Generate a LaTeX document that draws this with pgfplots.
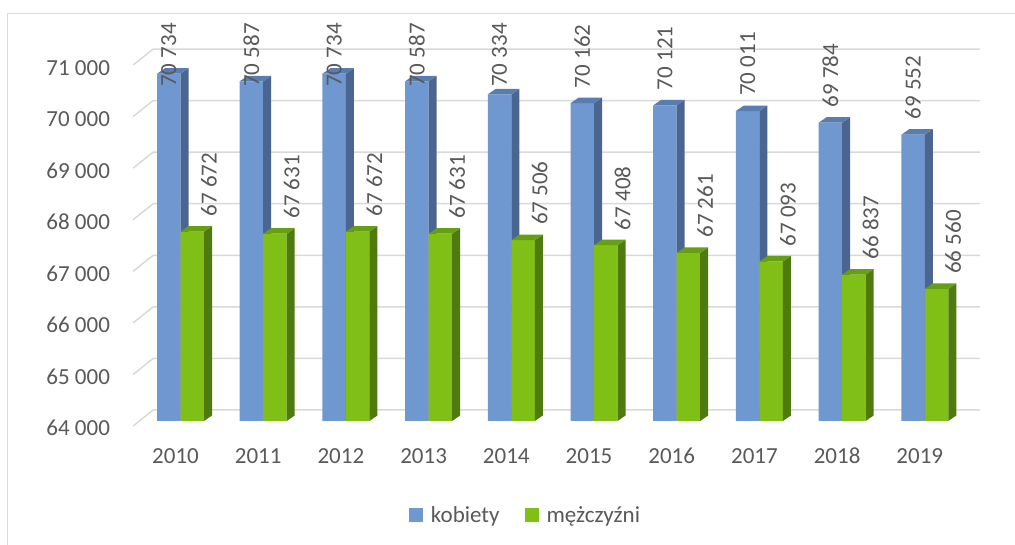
\documentclass[border=0pt]{standalone}
\usepackage{pgfplots}
\pgfplotsset{compat=1.18}
\usepackage{pgfplotstable}
\usepackage{fontspec}
\setmainfont{Carlito}
\definecolor{blueF}{HTML}{6F98D1}
\definecolor{blueS}{HTML}{4A6690}
\definecolor{blueT}{HTML}{5A7DB0}
\definecolor{greenF}{HTML}{80C016}
\definecolor{greenS}{HTML}{4F7A0E}
\definecolor{greenT}{HTML}{669E14}
\definecolor{textgray}{HTML}{595959}
\definecolor{gridgray}{HTML}{D9D9D9}
\newcommand\chartfont{\fontsize{23}{27}\selectfont}
\pgfplotstableread{
i k m
0 70734 67672
1 70587 67631
2 70734 67672
3 70587 67631
4 70334 67506
5 70162 67408
6 70121 67261
7 70011 67093
8 69784 66837
9 69552 66560
}\data
% geometry constants (axis units)
\def\bw{0.28416}   % bar width 23.5pt
\def\dx{0.09674}   % depth 8pt
\def\dy{106.65}    % depth 5.5pt in data units
\newcommand\face[2]{% #1 = index, #2 = column ; sets \vt \vtt
  \pgfplotstablegetelem{#1}{#2}\of\data
  \edef\vt{\pgfplotsretval}%
  \pgfkeys{/pgf/fpu=true,/pgf/fpu/output format=fixed}%
  \pgfmathparse{\vt+\dy}\global\let\vtt\pgfmathresult
  \pgfkeys{/pgf/fpu=false}%
}
\begin{document}
\begin{tikzpicture}
\begin{axis}[
  at={(139.15pt,124pt)}, anchor=south west,
  scale only axis, width=827pt, height=361pt,
  xmin=-0.5, xmax=9.5, ymin=64000, ymax=71000,
  clip=false,
  axis line style={draw=none},
  major tick length=0pt, tick style={draw=none},
  xtick={0,1,2,3,4,5,6,7,8,9},
  xticklabels={2010,2011,2012,2013,2014,2015,2016,2017,2018,2019},
  ytick={64000,65000,66000,67000,68000,69000,70000,71000},
  scaled y ticks=false,
  /pgf/number format/1000 sep={\ },
  /pgf/number format/assume math mode=true,
  tick label style={font=\chartfont, text=textgray},
  yticklabel style={anchor=base east, inner sep=0pt, xshift=-29pt, yshift=-15pt},
  xticklabel style={anchor=base, inner sep=0pt, yshift=-43pt, xshift=-5pt},
  legend style={at={(axis description cs:0.3263,-0.2604)}, anchor=west,
    draw=none, fill=none, inner sep=0pt, outer sep=0pt,
    font=\chartfont, text=textgray, legend columns=2,
    /tikz/every odd column/.append style={column sep=6pt},
    /tikz/every even column/.append style={column sep=23pt}},
  legend cell align=left,
]
% grid (back wall + floor diagonals)
\pgfplotsinvokeforeach{64000,65000,66000,67000,68000,69000,70000,71000}{
  \draw[gridgray, line width=1.5pt] ([xshift=-6pt,yshift=-5pt]axis cs:-0.5,#1) -- ([xshift=14pt,yshift=11pt]axis cs:-0.5,#1) -- ([xshift=14pt,yshift=11pt]axis cs:9.5,#1);
}
% blue fronts
\addplot[ybar, bar width=23.5pt, bar shift=-11.75pt, fill=blueF, draw=none,
  legend image code/.code={\fill[blueF] (0pt,-7pt) rectangle (14pt,7pt);}]
  table[x=i, y=k]{\data};
\addlegendentry{kobiety}
\pgfplotsinvokeforeach{0,...,9}{
  \face{#1}{k}
  \pgfmathsetmacro\xl{#1-\bw}
  \pgfmathsetmacro\xll{#1-\bw+\dx}
  \pgfmathsetmacro\xrr{#1+\dx}
  \addplot[draw=none, fill=blueS, forget plot] coordinates {(#1,64000) (#1,\vt) (\xrr,\vtt) (\xrr,64106.65)} -- cycle;
  \addplot[draw=none, fill=blueT, forget plot] coordinates {(\xl,\vt) (#1,\vt) (\xrr,\vtt) (\xll,\vtt)} -- cycle;
}
% green fronts
\addplot[ybar, bar width=23.5pt, bar shift=11.75pt, fill=greenF, draw=none,
  legend image code/.code={\fill[greenF] (0pt,-7pt) rectangle (14pt,7pt);}]
  table[x=i, y=m]{\data};
\addlegendentry{mężczyźni}
\pgfplotsinvokeforeach{0,...,9}{
  \face{#1}{m}
  \pgfmathsetmacro\xr{#1+\bw}
  \pgfmathsetmacro\xrr{#1+\bw+\dx}
  \pgfmathsetmacro\xll{#1+\dx}
  \addplot[draw=none, fill=greenS, forget plot] coordinates {(\xr,64000) (\xr,\vt) (\xrr,\vtt) (\xrr,64106.65)} -- cycle;
  \addplot[draw=none, fill=greenT, forget plot] coordinates {(#1,\vt) (\xr,\vt) (\xrr,\vtt) (\xll,\vtt)} -- cycle;
}
% data labels
\addplot[draw=none, mark=none, forget plot, point meta=\thisrow{k},
  nodes near coords={\pgfmathprintnumber[1000 sep={\ }]{\pgfplotspointmeta}},
  every node near coord/.append style={rotate=90, anchor=west, inner sep=0pt, font=\chartfont, text=textgray}]
  table[x expr=\thisrow{i}-0.14208, y expr={min(\thisrow{k}+291,70476)}]{\data};
\addplot[draw=none, mark=none, forget plot, point meta=\thisrow{m},
  nodes near coords={\pgfmathprintnumber[1000 sep={\ }]{\pgfplotspointmeta}},
  every node near coord/.append style={rotate=90, anchor=west, inner sep=0pt, font=\chartfont, text=textgray}]
  table[x expr=\thisrow{i}+0.3446, y expr={\thisrow{m}+291}]{\data};
\end{axis}
\draw[gridgray, line width=1pt] (7pt,-20pt) rectangle (1040pt,531pt);
\pgfresetboundingbox
\useasboundingbox (0pt,0pt) rectangle (1015pt,545pt);
\end{tikzpicture}
\end{document}
